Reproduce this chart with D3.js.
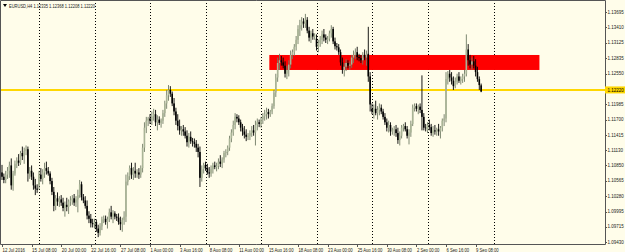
<!DOCTYPE html>
<html>
<head>
<meta charset="utf-8">
<script src="https://cdn.jsdelivr.net/npm/d3@7"></script>
<style>
  body { margin: 0; background: #fffdea; }
  svg { display: block; }
  text { font-family: "Liberation Sans", Arial, sans-serif; }
</style>
</head>
<body>
<svg id="chart"></svg>
<script>
// EURUSD H4, 12 Jul 16:00 .. 9 Sep 20:00 (one row per trading day)
const opens = [
  1.1072,1.1064,
  1.1058,1.1068,1.1075,1.1085,1.1048,1.1070,
  1.1088,1.1094,1.1090,1.1108,1.1102,1.1112,
  1.1115,1.1070,1.1075,1.1064,1.1048,1.1042,
  1.1048,1.1068,1.1060,1.1072,1.1080,1.1075,
  1.1070,1.1056,1.1036,1.1010,1.1024,1.1018,
  1.1022,1.1016,1.1006,1.1012,1.1008,1.1018,
  1.1020,1.1024,1.1016,1.1022,1.1030,1.1050,
  1.1026,1.1020,1.1010,1.0992,1.0986,1.0978,
  1.0976,1.0980,1.0968,1.0960,1.0972,1.0985,
  1.0986,1.0980,1.0985,1.0998,1.0990,1.0996,
  1.0990,1.0988,1.0980,1.0976,1.0984,1.0990,
  1.1055,1.1065,1.1080,1.1068,1.1075,1.1070,
  1.1072,1.1068,1.1080,1.1118,1.1155,1.1168,
  1.1172,1.1168,1.1176,1.1180,1.1165,1.1170,
  1.1164,1.1168,1.1182,1.1200,1.1215,1.1225,
  1.1218,1.1200,1.1185,1.1168,1.1158,1.1150,
  1.1152,1.1148,1.1140,1.1128,1.1138,1.1130,
  1.1128,1.1125,1.1118,1.1110,1.1062,1.1078,
  1.1086,1.1080,1.1072,1.1070,1.1078,1.1085,
  1.1082,1.1084,1.1092,1.1088,1.1096,1.1108,
  1.1110,1.1118,1.1135,1.1146,1.1160,1.1175,
  1.1172,1.1165,1.1155,1.1148,1.1142,1.1138,
  1.1140,1.1145,1.1150,1.1146,1.1160,1.1165,
  1.1162,1.1170,1.1176,1.1180,1.1184,1.1180,
  1.1185,1.1195,1.1220,1.1248,1.1275,1.1280,
  1.1276,1.1270,1.1255,1.1262,1.1272,1.1290,
  1.1295,1.1305,1.1318,1.1338,1.1345,1.1352,
  1.1348,1.1355,1.1335,1.1322,1.1330,1.1324,
  1.1320,1.1305,1.1312,1.1318,1.1328,1.1322,
  1.1318,1.1320,1.1330,1.1338,1.1315,1.1306,
  1.1304,1.1295,1.1276,1.1262,1.1268,1.1275,
  1.1270,1.1272,1.1285,1.1290,1.1295,1.1286,
  1.1284,1.1280,1.1290,1.1285,1.1292,1.1250,
  1.1190,1.1185,1.1190,1.1182,1.1188,1.1192,
  1.1185,1.1175,1.1165,1.1155,1.1160,1.1148,
  1.1150,1.1152,1.1145,1.1132,1.1140,1.1155,
  1.1158,1.1152,1.1140,1.1146,1.1162,1.1192,
  1.1195,1.1190,1.1194,1.1188,1.1175,1.1155,
  1.1150,1.1160,1.1156,1.1145,1.1150,1.1148,
  1.1152,1.1148,1.1155,1.1168,1.1172,1.1245,
  1.1255,1.1248,1.1242,1.1232,1.1240,1.1250,
  1.1242,1.1245,1.1250,1.1255,1.1300,1.1280,
  1.1272,1.1278,1.1270,1.1258,1.1245,1.12335
];
const highs = [
  1.1086,1.1070,
  1.1075,1.1082,1.1092,1.1098,1.1075,1.1094,
  1.1100,1.1106,1.1112,1.1120,1.1118,1.1122,
  1.1120,1.1082,1.1085,1.1072,1.1060,1.1050,
  1.1075,1.1080,1.1078,1.1090,1.1092,1.1082,
  1.1074,1.1062,1.1045,1.1030,1.1035,1.1028,
  1.1030,1.1025,1.1018,1.1025,1.1022,1.1028,
  1.1030,1.1032,1.1028,1.1040,1.1058,1.1055,
  1.1032,1.1028,1.1020,1.1000,1.0995,1.0986,
  1.0986,1.0985,1.0975,1.0978,1.0990,1.0992,
  1.0992,1.0990,1.1005,1.1010,1.1002,1.1000,
  1.0995,1.0996,1.0990,1.0988,1.1000,1.1068,
  1.1072,1.1085,1.1090,1.1082,1.1090,1.1078,
  1.1080,1.1085,1.1125,1.1165,1.1175,1.1175,
  1.1180,1.1185,1.1190,1.1188,1.1178,1.1176,
  1.1172,1.1188,1.1205,1.1225,1.1234,1.1232,
  1.1222,1.1210,1.1192,1.1180,1.1170,1.1158,
  1.1160,1.1156,1.1150,1.1145,1.1148,1.1136,
  1.1135,1.1132,1.1125,1.1120,1.1085,1.1090,
  1.1092,1.1088,1.1082,1.1085,1.1090,1.1092,
  1.1090,1.1098,1.1104,1.1100,1.1112,1.1115,
  1.1122,1.1140,1.1152,1.1168,1.1182,1.1180,
  1.1178,1.1170,1.1162,1.1158,1.1152,1.1145,
  1.1150,1.1158,1.1160,1.1168,1.1172,1.1170,
  1.1175,1.1182,1.1188,1.1192,1.1190,1.1188,
  1.1200,1.1225,1.1255,1.1285,1.1292,1.1288,
  1.1285,1.1278,1.1270,1.1280,1.1298,1.1300,
  1.1310,1.1325,1.1345,1.1355,1.1360,1.1358,
  1.1366,1.1360,1.1342,1.1335,1.1338,1.1330,
  1.1328,1.1318,1.1325,1.1335,1.1338,1.1328,
  1.1325,1.1335,1.1345,1.1342,1.1322,1.1312,
  1.1310,1.1300,1.1285,1.1275,1.1282,1.1280,
  1.1278,1.1290,1.1298,1.1302,1.1305,1.1292,
  1.1290,1.1295,1.1300,1.1298,1.1342,1.1258,
  1.1200,1.1198,1.1205,1.1195,1.1200,1.1198,
  1.1190,1.1182,1.1172,1.1168,1.1165,1.1155,
  1.1158,1.1160,1.1155,1.1148,1.1160,1.1162,
  1.1165,1.1158,1.1152,1.1168,1.1198,1.1200,
  1.1200,1.1198,1.1200,1.1252,1.1182,1.1162,
  1.1165,1.1170,1.1162,1.1158,1.1160,1.1155,
  1.1162,1.1158,1.1172,1.1180,1.1258,1.1260,
  1.1262,1.1258,1.1250,1.1248,1.1255,1.1258,
  1.1250,1.1255,1.1262,1.1328,1.1310,1.1290,
  1.1285,1.1288,1.1282,1.1268,1.1250,1.12368
];
const lows = [
  1.1058,1.1052,
  1.1052,1.1060,1.1062,1.1040,1.1038,1.1066,
  1.1080,1.1084,1.1086,1.1095,1.1088,1.1104,
  1.1055,1.1060,1.1058,1.1040,1.1030,1.1034,
  1.1040,1.1055,1.1050,1.1062,1.1068,1.1066,
  1.1050,1.1030,1.1000,1.1002,1.1010,1.1008,
  1.1010,1.1000,1.0990,1.1000,1.0995,1.1010,
  1.1012,1.1010,1.1008,1.0998,1.1025,1.1020,
  1.1015,1.1005,1.0985,1.0978,1.0970,1.0970,
  1.0968,1.0962,1.0952,1.0955,1.0965,1.0978,
  1.0975,1.0968,1.0980,1.0985,1.0978,1.0985,
  1.0982,1.0975,1.0965,1.0962,1.0975,1.0980,
  1.1048,1.1058,1.1060,1.1058,1.1062,1.1062,
  1.1060,1.1062,1.1072,1.1110,1.1145,1.1158,
  1.1162,1.1160,1.1168,1.1158,1.1150,1.1160,
  1.1155,1.1162,1.1175,1.1190,1.1205,1.1212,
  1.1195,1.1178,1.1160,1.1150,1.1142,1.1140,
  1.1140,1.1135,1.1120,1.1118,1.1125,1.1120,
  1.1118,1.1110,1.1100,1.1045,1.1055,1.1070,
  1.1075,1.1068,1.1062,1.1064,1.1070,1.1078,
  1.1074,1.1078,1.1082,1.1080,1.1090,1.1100,
  1.1104,1.1112,1.1128,1.1140,1.1152,1.1165,
  1.1160,1.1148,1.1140,1.1135,1.1130,1.1132,
  1.1132,1.1138,1.1140,1.1122,1.1150,1.1156,
  1.1155,1.1162,1.1168,1.1170,1.1172,1.1175,
  1.1180,1.1190,1.1212,1.1240,1.1262,1.1270,
  1.1265,1.1248,1.1245,1.1250,1.1265,1.1282,
  1.1288,1.1298,1.1310,1.1325,1.1335,1.1340,
  1.1340,1.1330,1.1315,1.1312,1.1318,1.1318,
  1.1298,1.1295,1.1305,1.1310,1.1315,1.1312,
  1.1310,1.1315,1.1322,1.1310,1.1300,1.1298,
  1.1290,1.1270,1.1255,1.1250,1.1260,1.1265,
  1.1262,1.1266,1.1275,1.1282,1.1280,1.1278,
  1.1275,1.1272,1.1280,1.1270,1.1240,1.1185,
  1.1180,1.1172,1.1178,1.1170,1.1178,1.1180,
  1.1170,1.1160,1.1148,1.1146,1.1140,1.1142,
  1.1140,1.1138,1.1125,1.1122,1.1135,1.1148,
  1.1148,1.1135,1.1124,1.1138,1.1158,1.1185,
  1.1185,1.1180,1.1182,1.1150,1.1150,1.1148,
  1.1145,1.1150,1.1140,1.1138,1.1142,1.1140,
  1.1140,1.1135,1.1148,1.1158,1.1165,1.1235,
  1.1240,1.1235,1.1225,1.1228,1.1235,1.1238,
  1.1235,1.1238,1.1240,1.1250,1.1270,1.1265,
  1.1262,1.1265,1.1250,1.1240,1.1225,1.12208
];
const closes = [
  1.1064,1.1058,
  1.1068,1.1075,1.1085,1.1048,1.1070,1.1088,
  1.1094,1.1090,1.1108,1.1102,1.1112,1.1115,
  1.1070,1.1075,1.1064,1.1048,1.1042,1.1040,
  1.1068,1.1060,1.1072,1.1080,1.1075,1.1070,
  1.1056,1.1036,1.1010,1.1024,1.1018,1.1022,
  1.1016,1.1006,1.1012,1.1008,1.1018,1.1020,
  1.1024,1.1016,1.1022,1.1030,1.1050,1.1026,
  1.1020,1.1010,1.0992,1.0986,1.0978,1.0976,
  1.0980,1.0968,1.0960,1.0972,1.0985,1.0986,
  1.0980,1.0985,1.0998,1.0990,1.0996,1.0990,
  1.0988,1.0980,1.0976,1.0984,1.0990,1.1055,
  1.1065,1.1080,1.1068,1.1075,1.1070,1.1072,
  1.1068,1.1080,1.1118,1.1155,1.1168,1.1172,
  1.1168,1.1176,1.1180,1.1165,1.1170,1.1164,
  1.1168,1.1182,1.1200,1.1215,1.1225,1.1218,
  1.1200,1.1185,1.1168,1.1158,1.1150,1.1152,
  1.1148,1.1140,1.1128,1.1138,1.1130,1.1128,
  1.1125,1.1118,1.1110,1.1062,1.1078,1.1086,
  1.1080,1.1072,1.1070,1.1078,1.1085,1.1082,
  1.1084,1.1092,1.1088,1.1096,1.1108,1.1110,
  1.1118,1.1135,1.1146,1.1160,1.1175,1.1172,
  1.1165,1.1155,1.1148,1.1142,1.1138,1.1140,
  1.1145,1.1150,1.1146,1.1160,1.1165,1.1162,
  1.1170,1.1176,1.1180,1.1184,1.1180,1.1185,
  1.1195,1.1220,1.1248,1.1275,1.1280,1.1276,
  1.1270,1.1255,1.1262,1.1272,1.1290,1.1295,
  1.1305,1.1318,1.1338,1.1345,1.1352,1.1348,
  1.1355,1.1335,1.1322,1.1330,1.1324,1.1326,
  1.1305,1.1312,1.1318,1.1328,1.1322,1.1318,
  1.1320,1.1330,1.1338,1.1315,1.1306,1.1304,
  1.1295,1.1276,1.1262,1.1268,1.1275,1.1270,
  1.1272,1.1285,1.1290,1.1295,1.1286,1.1284,
  1.1280,1.1290,1.1285,1.1292,1.1250,1.1198,
  1.1185,1.1190,1.1182,1.1188,1.1192,1.1185,
  1.1175,1.1165,1.1155,1.1160,1.1148,1.1150,
  1.1152,1.1145,1.1132,1.1140,1.1155,1.1158,
  1.1152,1.1140,1.1146,1.1162,1.1192,1.1195,
  1.1190,1.1194,1.1188,1.1175,1.1155,1.1154,
  1.1160,1.1156,1.1145,1.1150,1.1148,1.1152,
  1.1148,1.1155,1.1168,1.1172,1.1245,1.1255,
  1.1248,1.1242,1.1232,1.1240,1.1250,1.1242,
  1.1245,1.1250,1.1255,1.1300,1.1280,1.1272,
  1.1278,1.1270,1.1258,1.1245,1.1234,1.12220
];

// axis ticks
const priceTicks = [1.13695, 1.13410, 1.13125, 1.12835, 1.12550, 1.11985, 1.11700,
  1.11415, 1.11130, 1.10850, 1.10565, 1.10280, 1.09995, 1.09715, 1.09430];
const timeTickBars = [0, 16, 32, 48, 64, 80, 96, 112, 128, 144, 160, 176, 192, 208, 224, 240, 256];
const timeTickLabels = ["12 Jul 2016", "15 Jul 08:00", "20 Jul 00:00", "22 Jul 16:00", "27 Jul 08:00",
  "1 Aug 00:00", "3 Aug 16:00", "8 Aug 08:00", "11 Aug 00:00", "15 Aug 16:00", "18 Aug 08:00",
  "23 Aug 00:00", "25 Aug 16:00", "30 Aug 08:00", "2 Sep 00:00", "6 Sep 16:00", "9 Sep 08:00"];
// week separators (Monday 00:00 bars)
const gridBars = [20, 50, 80, 110, 140, 170, 200, 230, 266];

// user objects
const zoneTop = 1.12898, zoneBottom = 1.12620, zoneFrom = 144.5, zoneTo = 290.5;
const levelPrice = 1.12250;
const header = "EURUSD,H4  1.12335 1.12368 1.12208 1.12220";
const lastPrice = "1.12220";

const width = 625, height = 252;
const plot = { left: 0, right: 605, top: 0, bottom: 244 };
const fontSize = 5.2;
const charW = 2.05; // small condensed terminal font

const svg = d3.select('svg#chart').attr('width', width).attr('height', height);

const x = d3.scaleLinear().domain([0, 256]).range([2, 475.6]);
const y = d3.scaleLinear().domain([1.09430, 1.13695]).range([242, 12]);

function tinyText(sel, str) {
  sel.attr('font-size', fontSize)
    .attr('textLength', str.length * charW)
    .attr('lengthAdjust', 'spacingAndGlyphs')
    .text(str);
}

// grid
svg.append('g').selectAll('line').data(gridBars).enter().append('line')
  .attr('x1', d => Math.round(x(d)) + 0.5).attr('x2', d => Math.round(x(d)) + 0.5)
  .attr('y1', plot.top).attr('y2', plot.bottom)
  .attr('stroke', '#000').attr('stroke-width', 1).attr('stroke-dasharray', '1,2');

// red zone
svg.append('rect')
  .attr('x', x(zoneFrom)).attr('width', x(zoneTo) - x(zoneFrom))
  .attr('y', y(zoneTop)).attr('height', y(zoneBottom) - y(zoneTop))
  .attr('fill', '#ff0000');

// yellow level
svg.append('line')
  .attr('x1', plot.left).attr('x2', plot.right)
  .attr('y1', y(levelPrice)).attr('y2', y(levelPrice))
  .attr('stroke', '#ffd700').attr('stroke-width', 2);

// candles
const idx = d3.range(closes.length);
const candles = svg.append('g');
candles.selectAll('line').data(idx).enter().append('line')
  .attr('x1', i => x(i)).attr('x2', i => x(i))
  .attr('y1', i => y(highs[i])).attr('y2', i => y(lows[i]))
  .attr('stroke', i => closes[i] >= opens[i] ? '#6f7a64' : '#000')
  .attr('stroke-width', 0.9);
candles.selectAll('rect').data(idx).enter().append('rect')
  .attr('x', i => x(i) - 0.8).attr('width', 1.6)
  .attr('y', i => y(Math.max(opens[i], closes[i])))
  .attr('height', i => Math.max(0.6, Math.abs(y(opens[i]) - y(closes[i]))))
  .attr('fill', i => closes[i] >= opens[i] ? '#a9b496' : '#000');

// frame
svg.append('path')
  .attr('d', `M${plot.left + 0.5},${plot.top + 0.5}H${plot.right + 0.5}V${plot.bottom + 0.5}H${plot.left + 0.5}Z`)
  .attr('fill', 'none').attr('stroke', '#555').attr('stroke-width', 1);

// price axis (labels use a plain small size so they sit inside the window)
const pAxis = svg.append('g');
pAxis.selectAll('line').data(priceTicks).enter().append('line')
  .attr('x1', plot.right).attr('x2', plot.right + 2)
  .attr('y1', d => Math.round(y(d)) + 0.5).attr('y2', d => Math.round(y(d)) + 0.5)
  .attr('stroke', '#555');
pAxis.selectAll('text').data(priceTicks).enter().append('text')
  .attr('x', plot.right + 2.5).attr('y', d => y(d) + 1.7)
  .attr('font-size', 4.5).attr('fill', '#222')
  .text(d => d.toFixed(5));

// current price label
svg.append('rect').attr('x', plot.right).attr('y', y(levelPrice) - 3.5)
  .attr('width', width - plot.right).attr('height', 7).attr('fill', '#ffd700');
svg.append('text').attr('x', plot.right + 2.5).attr('y', y(levelPrice) + 1.7)
  .attr('font-size', 4.5).attr('fill', '#000').text(lastPrice);

// time axis
const tAxis = svg.append('g');
tAxis.selectAll('line').data(timeTickBars).enter().append('line')
  .attr('x1', d => Math.round(x(d)) + 0.5).attr('x2', d => Math.round(x(d)) + 0.5)
  .attr('y1', plot.bottom).attr('y2', plot.bottom + 3)
  .attr('stroke', '#555');
tAxis.selectAll('text').data(timeTickBars).enter().append('text')
  .attr('x', d => x(d) + 0.5).attr('y', plot.bottom + 7.5)
  .attr('fill', '#222')
  .each(function (d, i) { tinyText(d3.select(this), timeTickLabels[i]); });

// header
svg.append('path').attr('d', 'M3,4 L7,4 L5,7 Z').attr('fill', '#000');
svg.append('text').attr('x', 9).attr('y', 8).attr('fill', '#222').call(tinyText, header);
</script>
</body>
</html>
